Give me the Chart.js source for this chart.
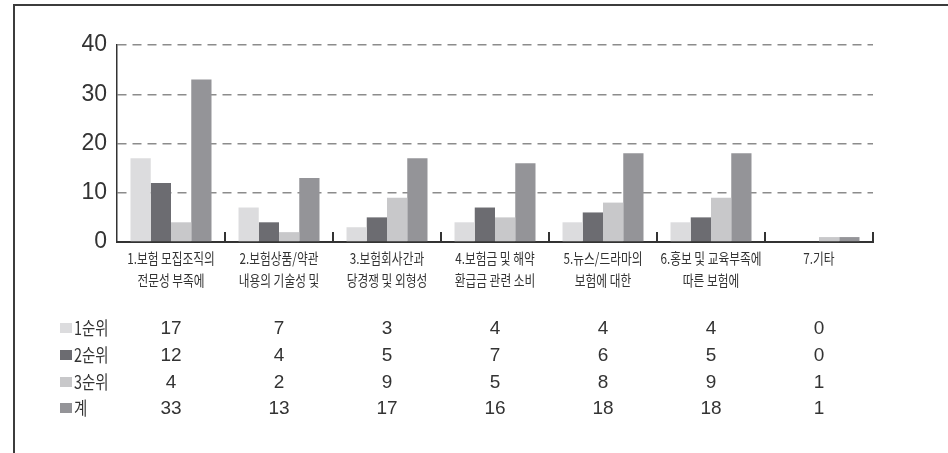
<!DOCTYPE html>
<html>
<head>
<meta charset="utf-8">
<script src="https://cdn.jsdelivr.net/npm/chart.js@4/dist/chart.umd.min.js"></script>
<style>
  html, body { margin: 0; padding: 0; background: #ffffff; }
  canvas { display: block; }
</style>
</head>
<body>
<canvas id="chart" width="948" height="453"></canvas>
<script>
// Categories (two-line labels) and the four series shown in the table under the chart
const categories = [
  ['1.보험 모집조직의', '전문성 부족에'],
  ['2.보험상품/약관', '내용의 기술성 및'],
  ['3.보험회사간과', '당경쟁 및 외형성'],
  ['4.보험금 및 해약', '환급금 관련 소비'],
  ['5.뉴스/드라마의', '보험에 대한'],
  ['6.홍보 및 교육부족에', '따른 보험에'],
  ['7.기타']
];
const seriesNames = ['1순위', '2순위', '3순위', '계'];
const rank1 = [17, 7, 3, 4, 4, 4, 0];
const rank2 = [12, 4, 5, 7, 6, 5, 0];
const rank3 = [4, 2, 9, 5, 8, 9, 1];
const totals = [33, 13, 17, 16, 18, 18, 1];
const yTicks = [0, 10, 20, 30, 40];

const seriesValues = [rank1, rank2, rank3, totals];
const seriesColors = ['#dcdcde', '#6c6c71', '#c8c8ca', '#949498'];

const KR_FONT = '"Noto Sans CJK KR", "Noto Sans", sans-serif';
const NUM_FONT = '"Liberation Sans Narrow", "Liberation Sans", Arial, sans-serif';
const INK = '#333333';

// Draw text squeezed horizontally (narrow gothic look)
function drawNarrow(ctx, text, x, y, font, sx, align) {
  ctx.save();
  ctx.font = font;
  ctx.fillStyle = INK;
  ctx.textAlign = align || 'center';
  ctx.textBaseline = 'middle';
  ctx.translate(x, y);
  ctx.scale(sx, 1);
  ctx.fillText(text, 0, 0);
  ctx.restore();
}

// Frame, category separators, category labels and the data table
const tablePlugin = {
  id: 'tablePlugin',
  beforeDraw(chart) {
    const ctx = chart.ctx;
    ctx.save();
    ctx.fillStyle = '#ffffff';
    ctx.fillRect(0, 0, chart.width, chart.height);
    ctx.strokeStyle = '#3c3c3c';
    ctx.lineWidth = 2;
    ctx.beginPath();
    ctx.moveTo(14, chart.height);
    ctx.lineTo(14, 5);
    ctx.lineTo(chart.width, 5);
    ctx.stroke();
    ctx.restore();
  },
  afterDraw(chart) {
    const ctx = chart.ctx;
    const xs = chart.scales.x;
    const area = chart.chartArea;
    const n = categories.length;
    const step = (area.right - area.left) / n;

    // separator marks between categories
    ctx.save();
    ctx.strokeStyle = INK;
    ctx.lineWidth = 2;
    for (let i = 1; i <= n; i++) {
      const px = Math.round(xs.getPixelForValue(i - 1) + step / 2);
      ctx.beginPath();
      ctx.moveTo(px, area.bottom - 10);
      ctx.lineTo(px, area.bottom + 1);
      ctx.stroke();
    }
    ctx.restore();

    // category labels
    categories.forEach((lines, i) => {
      const cx = xs.getPixelForValue(i);
      lines.forEach((t, j) => {
        drawNarrow(ctx, t, cx, area.bottom + 16 + j * 22, '15px ' + KR_FONT, 0.78);
      });
    });

    // table rows: swatch, series name, values
    const rowY = [86, 113, 140, 166];
    seriesNames.forEach((name, r) => {
      const y = area.bottom + rowY[r];
      ctx.save();
      ctx.fillStyle = seriesColors[r];
      ctx.fillRect(60, y - 5, 12, 10);
      ctx.restore();
      drawNarrow(ctx, name, 74, y, '18px ' + KR_FONT, 0.8, 'left');
      seriesValues[r].forEach((v, i) => {
        drawNarrow(ctx, String(v), xs.getPixelForValue(i), y + 1, '19px ' + NUM_FONT, 1, 'center');
      });
    });
  }
};

new Chart(document.getElementById('chart'), {
  type: 'bar',
  data: {
    labels: categories.map(l => l.join(' ')),
    datasets: seriesNames.map((name, k) => ({
      label: name,
      data: seriesValues[k],
      backgroundColor: seriesColors[k],
      borderWidth: 0,
      categoryPercentage: 0.75,
      barPercentage: 1.0
    }))
  },
  options: {
    responsive: false,
    animation: false,
    devicePixelRatio: 1,
    layout: { padding: { left: 0, right: 75, top: 45, bottom: 211 } },
    plugins: {
      legend: { display: false },
      tooltip: { enabled: false }
    },
    scales: {
      x: {
        grid: { display: false },
        ticks: { display: false },
        border: { display: true, color: INK, width: 2 },
        afterFit(s) { s.height = 0; }
      },
      y: {
        min: yTicks[0],
        max: yTicks[yTicks.length - 1],
        afterBuildTicks(s) { s.ticks = yTicks.map(v => ({ value: v })); },
        ticks: {
          font: { family: NUM_FONT, size: 23 },
          color: INK,
          padding: 10
        },
        grid: {
          color: c => (c.tick && c.tick.value === 0) ? 'rgba(0,0,0,0)' : '#8c8c8c',
          lineWidth: 1.5,
          drawTicks: false
        },
        border: { display: true, color: INK, width: 1.5, dash: [9, 6] },
        afterFit(s) { s.width = 117; }
      }
    }
  },
  plugins: [tablePlugin]
});
</script>
</body>
</html>
